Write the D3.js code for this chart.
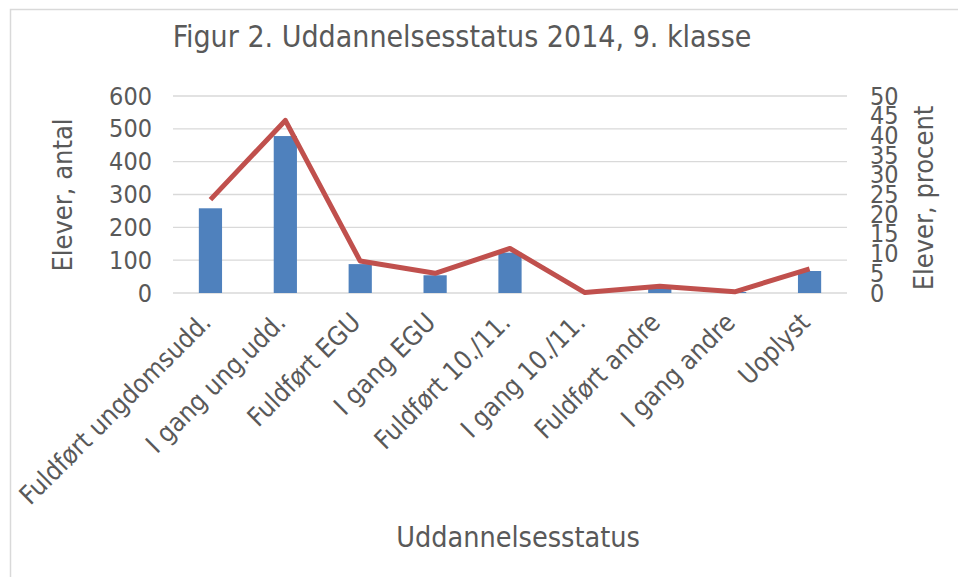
<!DOCTYPE html>
<html>
<head>
<meta charset="utf-8">
<script src="https://cdn.jsdelivr.net/npm/d3@7"></script>
<style>
  body { margin: 0; background: #fff; }
  text { font-family: "DejaVu Sans Condensed", "DejaVu Sans", sans-serif; font-stretch: condensed; fill: #595959; }
</style>
</head>
<body>
<div id="chart"></div>
<script>
// data
const categories = ["Fuldført ungdomsudd.", "I gang ung.udd.", "Fuldført EGU", "I gang EGU",
  "Fuldført 10./11.", "I gang 10./11.", "Fuldført andre", "I gang andre", "Uoplyst"];
const antal = [258, 478, 88, 54, 123, 0, 19, 3, 67];
const procent = [23.7, 43.8, 8.1, 5.0, 11.3, 0.1, 1.7, 0.3, 6.1];
const leftTicks = [0, 100, 200, 300, 400, 500, 600];
const rightTicks = [0, 5, 10, 15, 20, 25, 30, 35, 40, 45, 50];

const width = 958, height = 577;
const m = {left: 173, right: 111, top: 96, bottom: 284};
const pw = width - m.left - m.right, ph = height - m.top - m.bottom;

const svg = d3.select("#chart").append("svg")
  .attr("width", width).attr("height", height);

// outer frame (only top and left edges fall inside the picture)
svg.append("rect").attr("x", 10.5).attr("y", 9.5)
  .attr("width", 960).attr("height", 600)
  .attr("fill", "none").attr("stroke", "#d9d9d9").attr("stroke-width", 1.5);

const g = svg.append("g").attr("transform", `translate(${m.left},${m.top})`);

let x = d3.scaleBand().domain(categories).range([0, pw]).paddingInner(0.69).paddingOuter(0.345);
let y = d3.scaleLinear().domain([0, 600]).range([ph, 0]);
let y2 = d3.scaleLinear().domain([0, 50]).range([ph, 0]);

// GRID
g.selectAll("line.grid").data(leftTicks).enter().append("line")
  .attr("x1", 0).attr("x2", pw)
  .attr("y1", d => y(d)).attr("y2", d => y(d))
  .attr("stroke", "#d9d9d9").attr("stroke-width", 1.3);

// LEFT AXIS
const yAxis = g.append("g").call(d3.axisLeft(y).tickValues(leftTicks).tickSize(0).tickPadding(21));
yAxis.select(".domain").remove();
yAxis.selectAll("text").style("font-size", "25px").attr("fill", "#595959");

// RIGHT AXIS
const yAxis2 = g.append("g").attr("transform", `translate(${pw},0)`)
  .call(d3.axisRight(y2).tickValues(rightTicks).tickSize(0).tickPadding(23));
yAxis2.select(".domain").remove();
yAxis2.selectAll("text").style("font-size", "25px").attr("fill", "#595959");

// BARS
g.selectAll("rect.bar").data(antal).enter().append("rect")
  .attr("x", (d, i) => x(categories[i]))
  .attr("y", d => y(d))
  .attr("width", x.bandwidth())
  .attr("height", d => ph - y(d))
  .attr("fill", "#4f81bd");

// LINE
let line = d3.line()
  .x((d, i) => x(categories[i]) + x.bandwidth() / 2)
  .y(d => y2(d));
g.append("path").datum(procent)
  .attr("d", line)
  .attr("fill", "none").attr("stroke", "#c0504d")
  .attr("stroke-width", 5).attr("stroke-linejoin", "round");

// CATEGORY LABELS
g.selectAll("text.cat").data(categories).enter().append("text")
  .attr("transform", d => `translate(${x(d) + x.bandwidth() / 2 + 2},${ph + 31}) rotate(-45)`)
  .attr("text-anchor", "end")
  .style("font-size", "26px")
  .text(d => d);

// TITLES
svg.append("text").attr("x", 462).attr("y", 47).attr("text-anchor", "middle")
  .style("font-size", "30px").text("Figur 2. Uddannelsesstatus 2014, 9. klasse");

svg.append("text").attr("transform", "translate(72,195) rotate(-90)")
  .attr("text-anchor", "middle").style("font-size", "27px").text("Elever, antal");

svg.append("text").attr("transform", "translate(933,198) rotate(-90)")
  .attr("text-anchor", "middle").style("font-size", "27px").text("Elever, procent");

svg.append("text").attr("x", 518).attr("y", 547).attr("text-anchor", "middle")
  .style("font-size", "28.5px").text("Uddannelsesstatus");
</script>
</body>
</html>
